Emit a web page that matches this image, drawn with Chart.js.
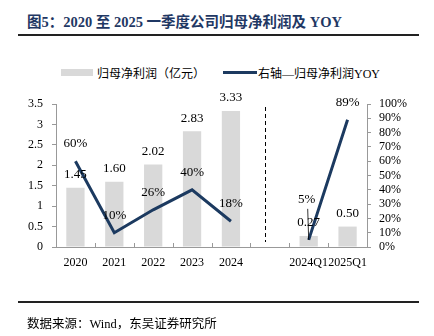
<!DOCTYPE html>
<html>
<head>
<meta charset="utf-8">
<script src="https://cdn.jsdelivr.net/npm/chart.js"></script>
<style>
  body { margin: 0; width: 434px; height: 336px; background: #fff; position: relative; overflow: hidden;
         font-family: "Liberation Serif", "Noto Sans CJK SC", serif; color: #000; }
  #title { position: absolute; left: 27px; top: 10px; font-size: 14.5px; font-weight: bold; color: #1f3864; white-space: nowrap; }
  .rule { position: absolute; left: 18px; width: 401px; height: 2px; background: #222; }
  #source { position: absolute; left: 27px; top: 313px; font-size: 12.5px; white-space: nowrap; }
  #legend { position: absolute; top: 64px; left: 0; font-size: 12px; white-space: nowrap; }
  #legend span { position: absolute; top: 0; }
  .swatch { position: absolute; }
  #wrap { position: absolute; left: 0; top: 0; width: 434px; height: 336px; }
</style>
</head>
<body>
<div id="title">图5：2020 至 2025 一季度公司归母净利润及 YOY</div>
<div class="rule" style="top:34px"></div>
<div id="legend">
  <div class="swatch" style="left:61px;top:5px;width:32px;height:7px;background:#d9d9d9"></div>
  <span style="left:97px">归母净利润（亿元）</span>
  <div class="swatch" style="left:223px;top:7px;width:34px;height:3px;background:#1c3a60"></div>
  <span style="left:258px">右轴—归母净利润YOY</span>
</div>
<div id="wrap"><canvas id="chart"></canvas></div>
<div class="rule" style="top:301px"></div>
<div id="source">数据来源：Wind，东吴证券研究所</div>

<script>
// 数据
const categories = ['2020', '2021', '2022', '2023', '2024', '', '2024Q1', '2025Q1'];
const netProfit = [1.45, 1.60, 2.02, 2.83, 3.33, null, 0.27, 0.50];   // 亿元
const netProfitYoy = [60, 10, 26, 40, 18, null, 5, 89];                // %
const leftTicks = [0, 3.5, 0.5];
const rightTicks = [0, 100, 10];

const serif = '"Liberation Serif", "Times New Roman", serif';

// labels, dashed separator, x tick marks
const extras = {
    id: 'extras',
    afterDatasetsDraw(chart) {
        const ctx = chart.ctx;
        const x = chart.scales.x;
        const area = chart.chartArea;
        ctx.save();

        // tick marks on x axis, pointing up
        ctx.strokeStyle = '#999';
        ctx.lineWidth = 1;
        for (let i = 0; i <= categories.length; i++) {
            const px = Math.round(x.getPixelForValue(i - 0.5)) + 0.5;
            ctx.beginPath();
            ctx.moveTo(px, area.bottom);
            ctx.lineTo(px, area.bottom - 4);
            ctx.stroke();
        }

        // dashed separator
        const sep = Math.round(x.getPixelForValue(5) - 5) + 0.5;
        ctx.strokeStyle = '#000';
        ctx.setLineDash([4, 3]);
        ctx.beginPath();
        ctx.moveTo(sep, area.top + 3);
        ctx.lineTo(sep, area.bottom - 5);
        ctx.stroke();
        ctx.setLineDash([]);

        ctx.font = '13px ' + serif;
        ctx.fillStyle = '#000';
        ctx.textAlign = 'center';
        ctx.textBaseline = 'middle';

        // bar values
        chart.getDatasetMeta(0).data.forEach((bar, i) => {
            if (netProfit[i] == null) return;
            ctx.fillText(netProfit[i].toFixed(2), bar.x, bar.y - 13);
        });

        // yoy values
        chart.getDatasetMeta(1).data.forEach((pt, i) => {
            if (netProfitYoy[i] == null) return;
            const lift = i === 6 ? 40 : 17.5;
            ctx.fillText(netProfitYoy[i] + '%', pt.x - (i === 6 ? 2 : 0), pt.y - lift);
            if (i === 6) {
                ctx.lineWidth = 0.8;
                ctx.beginPath();
                ctx.moveTo(pt.x - 1, pt.y - lift + 9);
                ctx.lineTo(pt.x, pt.y);
                ctx.stroke();
            }
        });
        ctx.restore();
    }
};

new Chart(document.getElementById('chart'), {
    data: {
        labels: categories,
        datasets: [
            {
                type: 'bar',
                label: '归母净利润（亿元）',
                data: netProfit,
                backgroundColor: '#d9d9d9',
                categoryPercentage: 1,
                barPercentage: 0.47,
                yAxisID: 'y',
                order: 2
            },
            {
                type: 'line',
                label: '右轴—归母净利润YOY',
                data: netProfitYoy,
                borderColor: '#1c3a60',
                borderWidth: 3,
                pointRadius: 0,
                spanGaps: false,
                yAxisID: 'y1',
                order: 1
            }
        ]
    },
    options: {
        responsive: true,
        maintainAspectRatio: false,
        animation: false,
        layout: { padding: { top: 104, left: 0, right: 0, bottom: 0 } },
        plugins: {
            legend: { display: false },
            tooltip: { enabled: false }
        },
        scales: {
            x: {
                grid: { display: false, drawTicks: false },
                border: { color: '#999' },
                ticks: {
                    autoSkip: false, maxRotation: 0, minRotation: 0, padding: 9,
                    color: '#000', font: { family: serif, size: 12 }
                },
                afterFit(s) { s.height = 89; }
            },
            y: {
                position: 'left',
                min: leftTicks[0], max: leftTicks[1],
                ticks: {
                    stepSize: leftTicks[2], padding: 9, autoSkip: false,
                    color: '#000', font: { family: serif, size: 12 },
                    callback: v => String(Math.round(v * 10) / 10)
                },
                grid: { drawOnChartArea: false, tickLength: 4, color: '#999' },
                border: { color: '#999' },
                afterFit(s) { s.width = 56; }
            },
            y1: {
                position: 'right',
                min: rightTicks[0], max: rightTicks[1],
                ticks: {
                    stepSize: rightTicks[2], padding: 8, autoSkip: false,
                    color: '#000', font: { family: serif, size: 12 },
                    callback: v => Math.round(v) + '%'
                },
                grid: { drawOnChartArea: false, tickLength: 4, color: '#999' },
                border: { color: '#999' },
                afterFit(s) { s.width = 67; }
            }
        }
    },
    plugins: [extras]
});
</script>
</body>
</html>
